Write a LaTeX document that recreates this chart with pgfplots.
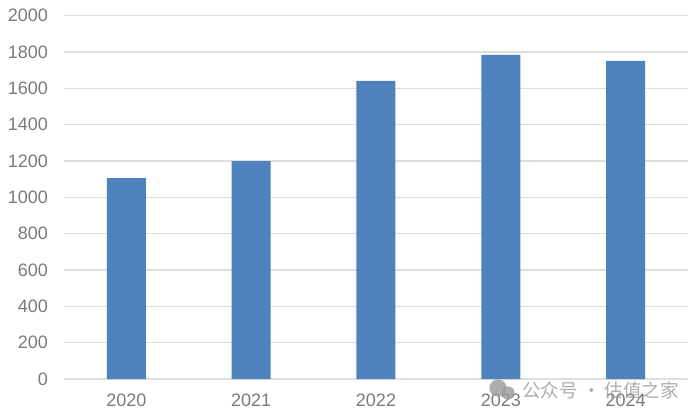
\documentclass[border=0pt]{standalone}
\usepackage{pgfplots}
\pgfplotsset{compat=1.18}
\usepackage{fontspec}
\setmainfont{Liberation Sans}
\newfontfamily\cjk{Noto Sans CJK SC}
\definecolor{barblue}{HTML}{4F81BD}
\definecolor{gridgray}{HTML}{DEDEDE}
\definecolor{ticktext}{HTML}{7A7A7A}
\definecolor{wmgray}{HTML}{999999}

\begin{document}
\begin{tikzpicture}
% 1 px of the reference = 0.75pt
\path[use as bounding box] (-48pt,-29.25pt) rectangle (477pt,284.25pt);
\begin{axis}[
    at={(0pt,0pt)},
    anchor=south west,
    scale only axis,
    width=468pt,
    height=272.6pt,
    ybar,
    bar width=29.25pt,
    xmin=-0.5, xmax=4.5,
    ymin=0, ymax=2000,
    xtick={0,1,2,3,4},
    xticklabels={2020,2021,2022,2023,2024},
    ytick={0,200,400,600,800,1000,1200,1400,1600,1800,2000},
    ymajorgrids,
    grid style={gridgray,line width=1pt},
    axis x line*=bottom,
    axis y line*=left,
    x axis line style={gridgray,line width=1pt,-},
    y axis line style={draw=none},
    major tick length=0pt,
    tick label style={ticktext,font=\fontsize{13.5pt}{15pt}\selectfont},
    /pgf/number format/assume math mode=true,
    /pgf/number format/1000 sep={},
    xticklabel style={yshift=-8pt},
    yticklabel style={xshift=-8.5pt},
    clip=false,
]
\addplot[fill=barblue,draw=none] coordinates {(0,1106) (1,1199) (2,1640) (3,1783) (4,1750)};
\end{axis}
% watermark
\fill[wmgray,opacity=0.8] (325.5pt,-6.75pt) circle (6.5pt);
\fill[wmgray,opacity=0.8] (333pt,-10.5pt) circle (5pt);
\node[wmgray,opacity=0.8,anchor=west,inner sep=0pt,font=\cjk\fontsize{13.9pt}{15pt}\selectfont] at (343.5pt,-8.5pt) {公众号 · 估值之家};
\end{tikzpicture}
\end{document}
